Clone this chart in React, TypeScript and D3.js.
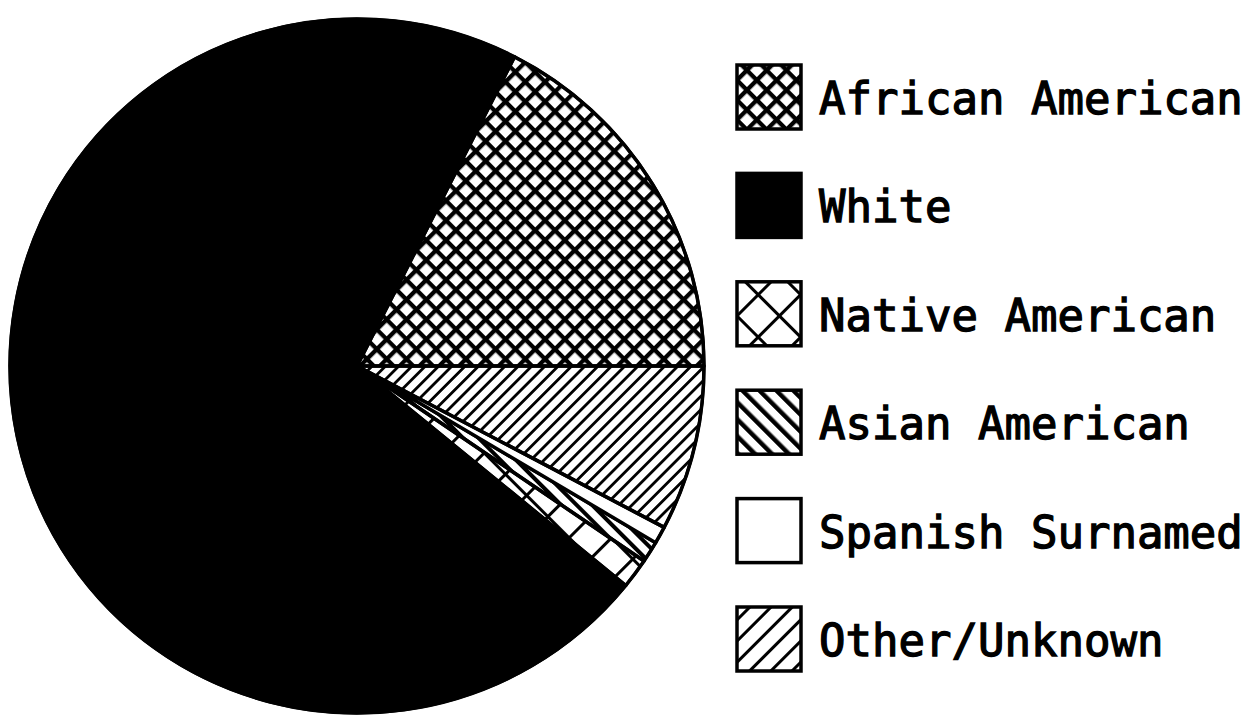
import * as d3 from "d3";

const categories = ["African American", "White", "Native American", "Asian American", "Spanish Surnamed", "Other/Unknown"];
const shares = [17.5, 71.6, 1.4, 1.0, 0.8, 7.7];
const fills = ["url(#aa)", "#000", "url(#na)", "url(#as)", "#fff", "url(#ot)"];
const legendFills = ["url(#aa)", "#000", "url(#naL)", "url(#asL)", "#fff", "url(#otL)"];

const width = 1248;
const height = 728;
const cx = 357;
const cy = 366;
const radius = 347;

const legendX = 737;
const legendBox = 64;
const legendTop = 97;
const legendStep = 108.4;

function Stripes({ id, gap, w, angle }: { id: string; gap: number; w: number; angle: number }) {
  return (
    <pattern id={id} width={gap} height={gap} patternUnits="userSpaceOnUse" patternTransform={`rotate(${angle})`}>
      <rect x={0} y={0} width={w} height={gap} fill="#000" />
    </pattern>
  );
}

function Cross({ id, gap, w }: { id: string; gap: number; w: number }) {
  return (
    <pattern id={id} width={gap} height={gap} patternUnits="userSpaceOnUse" patternTransform="rotate(45)">
      <rect x={0} y={0} width={w} height={gap} fill="#000" />
      <rect x={0} y={0} width={gap} height={w} fill="#000" />
    </pattern>
  );
}

export default function App() {
  // counter-clockwise from 3 o'clock, like the original plot
  const pie = d3
    .pie<number>()
    .sort(null)
    .startAngle(Math.PI / 2)
    .endAngle(Math.PI / 2 - 2 * Math.PI);
  const arcs = pie(shares);
  const arc = d3.arc<d3.PieArcDatum<number>>().innerRadius(0).outerRadius(radius);
  const rowY = d3.scaleLinear().domain([0, 1]).range([legendTop, legendTop + legendStep]);

  return (
    <svg width={width} height={height} style={{ position: "absolute", left: 0, top: 0, background: "#fff" }}>
      <defs>
        <Cross id="aa" gap={14} w={4.3} />
        <Cross id="na" gap={30} w={3} />
        <Cross id="naL" gap={30} w={3} />
        <Stripes id="as" gap={11} w={4} angle={-45} />
        <Stripes id="asL" gap={12} w={4.5} angle={-45} />
        <Stripes id="ot" gap={9.4} w={2.8} angle={45} />
        <Stripes id="otL" gap={15} w={3} angle={45} />
      </defs>
      <g transform={`translate(${cx},${cy})`}>
        {arcs.map((a, i) => (
          <path key={categories[i]} d={arc(a) ?? ""} fill={fills[i]} stroke="#000" strokeWidth={3.5} strokeLinejoin="round" />
        ))}
        <circle r={radius} fill="none" stroke="#000" strokeWidth={3} />
      </g>
      <g>
        {categories.map((c, i) => (
          <g key={c} transform={`translate(${legendX},${rowY(i)})`}>
            <rect x={0} y={-legendBox / 2} width={legendBox} height={legendBox} fill={legendFills[i]} stroke="#000" strokeWidth={3.5} />
            <text x={82} y={17} fontFamily="'DejaVu Sans Mono', monospace" fontSize={44} fill="#000" stroke="#000" strokeWidth={1.3}>
              {c}
            </text>
          </g>
        ))}
      </g>
    </svg>
  );
}
